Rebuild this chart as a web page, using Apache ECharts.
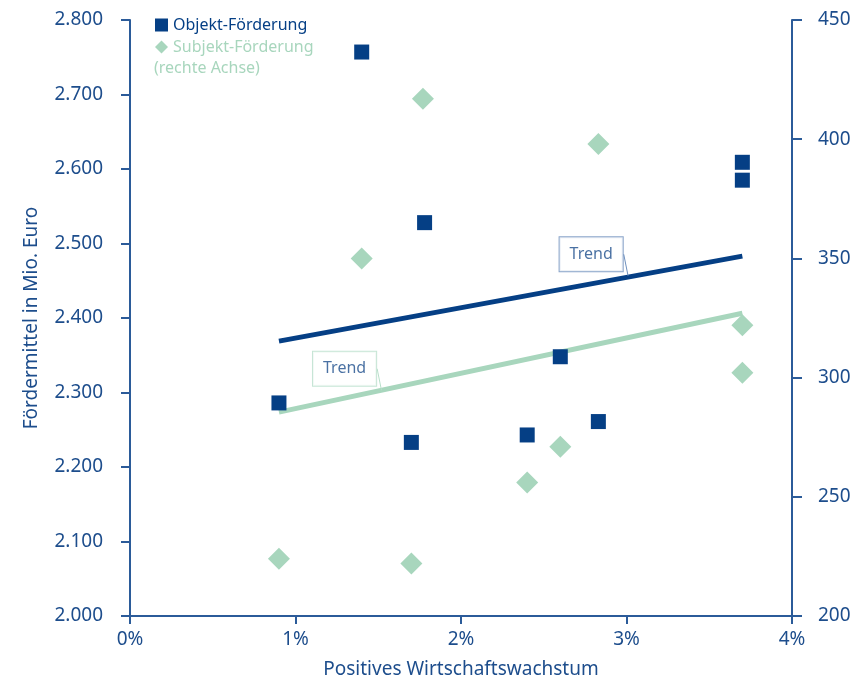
<!DOCTYPE html>
<html>
	<head>
		<meta charset="UTF-8">
		<title>Förderung und Wirtschaftswachstum</title>
		<script type="text/javascript" src="https://cdn.jsdelivr.net/npm/echarts@6/dist/echarts.min.js"></script>
	</head>
	<body style="margin:0;">
		<div id="main" style="width: 855px;height: 684px;"></div>
		<script type="text/javascript">
			var myChart=echarts.init(document.getElementById('main'));

			// Wachstum in %, Werte gelesen aus der Vorlage
			var objektX=[0.90,1.40,1.70,1.78,2.40,2.60,2.83,3.70,3.70];
			var objektY=[2286,2757,2233,2528,2243,2348,2261,2609,2585];
			var subjektX=[0.90,1.40,1.70,1.77,2.40,2.60,2.83,3.70,3.70];
			var subjektY=[224,350,222,417,256,271,398,322,302];
			// Trendlinien (Anfang, Ende)
			var trendObjekt=[[0.90,2369],[3.70,2483]];
			var trendSubjekt=[[0.90,285.5],[3.70,327]];
			// Ankerpunkte der "Trend"-Kästchen auf den Linien
			var trendLabelObjekt=[3.01,2456];
			var trendLabelSubjekt=[1.52,294.5];

			var dark='#053f85';
			var green='#a8d6bd';
			var axisColor='#2b5b99';
			var textColor='#1d4d8c';
			var font='Noto Sans';

			function pairs(xs,ys){
				var out=[];
				for(var i=0;i<xs.length;i++){
					out.push([xs[i],ys[i]]);
				}
				return out;
			}

			function trendTag(border){
				return {
					show:true,
					position:'inside',
					formatter:'Trend',
					color:textColor,
					fontFamily:font,
					fontSize:16,
					backgroundColor:'#fff',
					borderColor:border,
					borderWidth:1,
					padding:[9,10,9,10]
				};
			}

			var option={
				animation:false,
				textStyle:{fontFamily:font},
				grid:{left:130,right:63,top:20,bottom:66},
				legend:{
					orient:'vertical',
					left:150,
					top:10,
					itemWidth:13,
					itemHeight:13,
					itemGap:2,
					textStyle:{fontSize:16,fontFamily:font,lineHeight:20},
					data:[
						{name:'Objekt-Förderung',icon:'rect',textStyle:{color:dark}},
						{name:'Subjekt-Förderung',icon:'diamond',textStyle:{color:green}}
					]
				},
				graphic:[{
					type:'text',
					left:154,
					top:60,
					style:{text:'(rechte Achse)',fill:green,font:'16px "Noto Sans"'}
				}],
				xAxis:{
					type:'value',
					min:0,
					max:4,
					interval:1,
					name:'Positives Wirtschaftswachstum',
					nameLocation:'middle',
					nameGap:44,
					nameTextStyle:{color:textColor,fontSize:19,fontFamily:font},
					axisLine:{show:true,lineStyle:{color:axisColor,width:2}},
					axisTick:{show:true,length:8,lineStyle:{color:axisColor,width:2}},
					axisLabel:{color:textColor,fontSize:19,margin:14,formatter:'{value}%'},
					splitLine:{show:false}
				},
				yAxis:[{
					type:'value',
					min:2000,
					max:2800,
					interval:100,
					name:'Fördermittel in Mio. Euro',
					nameLocation:'middle',
					nameRotate:90,
					nameGap:89,
					nameTextStyle:{color:textColor,fontSize:19,fontFamily:font},
					axisLine:{show:true,lineStyle:{color:axisColor,width:2}},
					axisTick:{show:true,length:9,lineStyle:{color:axisColor,width:2}},
					axisLabel:{
						color:textColor,
						fontSize:19,
						margin:27,
						formatter:function(v){
							return Math.floor(v/1000)+'.'+('00'+(v%1000)).slice(-3);
						}
					},
					splitLine:{show:false}
				},{
					type:'value',
					min:200,
					max:450,
					interval:50,
					position:'right',
					axisLine:{show:true,lineStyle:{color:axisColor,width:2}},
					axisTick:{show:true,length:10,lineStyle:{color:axisColor,width:2}},
					axisLabel:{color:textColor,fontSize:19,margin:26},
					splitLine:{show:false}
				}],
				series:[{
					name:'Trend Objekt',
					type:'line',
					yAxisIndex:0,
					symbol:'none',
					lineStyle:{color:dark,width:5},
					data:trendObjekt,
					z:2
				},{
					name:'Trend Subjekt',
					type:'line',
					yAxisIndex:1,
					symbol:'none',
					lineStyle:{color:green,width:5},
					data:trendSubjekt,
					z:2
				},{
					name:'Subjekt-Förderung',
					type:'scatter',
					yAxisIndex:1,
					symbol:'diamond',
					symbolSize:22,
					itemStyle:{color:green,opacity:1},
					data:pairs(subjektX,subjektY),
					z:3
				},{
					name:'Objekt-Förderung',
					type:'scatter',
					yAxisIndex:0,
					symbol:'rect',
					symbolSize:15,
					itemStyle:{color:dark,opacity:1},
					data:pairs(objektX,objektY),
					z:4
				},{
					name:'tagObjekt',
					type:'scatter',
					yAxisIndex:0,
					symbolSize:1,
					itemStyle:{color:'rgba(0,0,0,0)'},
					label:trendTag('#6d8fbd'),
					labelLayout:{dx:-37,dy:-22},
					labelLine:{show:true,lineStyle:{color:'#6d8fbd',width:1}},
					data:[trendLabelObjekt],
					silent:true,
					z:5
				},{
					name:'tagSubjekt',
					type:'scatter',
					yAxisIndex:1,
					symbolSize:1,
					itemStyle:{color:'rgba(0,0,0,0)'},
					label:trendTag('#b8dfca'),
					labelLayout:{dx:-37,dy:-22},
					labelLine:{show:true,lineStyle:{color:'#b8dfca',width:1}},
					data:[trendLabelSubjekt],
					silent:true,
					z:5
				}]
			};

			myChart.setOption(option);
		</script>
	</body>
</html>
